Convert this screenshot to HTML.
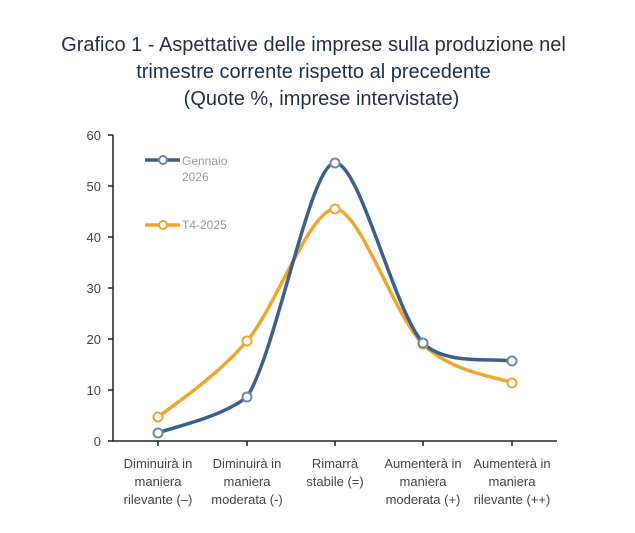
<!DOCTYPE html>
<html><head><meta charset="utf-8"><style>
body{margin:0;background:#fff;width:635px;height:533px;overflow:hidden;font-family:"Liberation Sans",sans-serif}
.t{position:absolute;left:0;width:635px;text-align:center;color:#1d3247;font-size:20px}
</style></head><body>
<div class="t" style="top:34px;left:-4px">Grafico 1 - Aspettative delle imprese sulla produzione nel</div>
<div class="t" style="top:61px;left:-4px">trimestre corrente rispetto al precedente</div>
<div class="t" style="top:88px;left:4px">(Quote %, imprese intervistate)</div>
<svg width="635" height="533" style="position:absolute;left:0;top:0" font-family="Liberation Sans, sans-serif">
<g stroke="#222" stroke-width="1.5" fill="none">
<path d="M113 135V441H557"/>
<path d="M113 135h-5M113 186h-5M113 237h-5M113 288h-5M113 339h-5M113 390h-5M113 441h-5"/>
<path d="M158 441v5M247 441v5M335 441v5M423 441v5M512 441v5"/>
</g>
<g fill="#444" font-size="13" text-anchor="end">
<text x="101" y="140">60</text><text x="101" y="191">50</text><text x="101" y="242">40</text>
<text x="101" y="293">30</text><text x="101" y="344">20</text><text x="101" y="395">10</text><text x="101" y="446">0</text>
</g>
<g fill="#444" font-size="13" text-anchor="middle">
<text x="158" y="468">Diminuirà in</text><text x="158" y="486">maniera</text><text x="158" y="504">rilevante (–)</text>
<text x="247" y="468">Diminuirà in</text><text x="247" y="486">maniera</text><text x="247" y="504">moderata (-)</text>
<text x="335" y="468">Rimarrà</text><text x="335" y="486">stabile (=)</text>
<text x="423" y="468">Aumenterà in</text><text x="423" y="486">maniera</text><text x="423" y="504">moderata (+)</text>
<text x="512" y="468">Aumenterà in</text><text x="512" y="486">maniera</text><text x="512" y="504">rilevante (++)</text>
</g>
<path d="M158 417C175 404 217.5 375.7 247 341C276.5 306 310 209 335 209C360 209 393.5 315 423 344C452.5 373 497 376.5 512 383" stroke="#f0a62e" stroke-width="3.5" fill="none"/>
<path d="M158 433C172.8 427 220 418 247 397C276.5 352 310 163 335 163C360 163 393.5 310 423 343C445 365 490 358 512 361" stroke="#3d5f8c" stroke-width="3.5" fill="none"/>
<g fill="#fff" stroke-width="2">
<circle cx="158" cy="417" r="4.5" stroke="#f0a62e"/><circle cx="247" cy="341" r="4.5" stroke="#f0a62e"/><circle cx="335" cy="209" r="4.5" stroke="#f0a62e"/><circle cx="423" cy="344" r="4.5" stroke="#f0a62e"/><circle cx="512" cy="383" r="4.5" stroke="#f0a62e"/>
<circle cx="158" cy="433" r="4.5" stroke="#6f88a8"/><circle cx="247" cy="397" r="4.5" stroke="#6f88a8"/><circle cx="335" cy="163" r="4.5" stroke="#6f88a8"/><circle cx="423" cy="343" r="4.5" stroke="#6f88a8"/><circle cx="512" cy="361" r="4.5" stroke="#6f88a8"/>
</g>
<path d="M145 160H180" stroke="#3d5f8c" stroke-width="3.5"/><circle cx="163" cy="160" r="4" fill="#fff" stroke="#6f88a8" stroke-width="2"/>
<path d="M145 225H180" stroke="#f0a62e" stroke-width="3.5"/><circle cx="163" cy="225" r="4" fill="#fff" stroke="#f0a62e" stroke-width="2"/>
<g fill="#999" font-size="12"><text x="182" y="165">Gennaio</text><text x="182" y="181">2026</text><text x="182" y="229">T4-2025</text></g>
</svg>
</body></html>
